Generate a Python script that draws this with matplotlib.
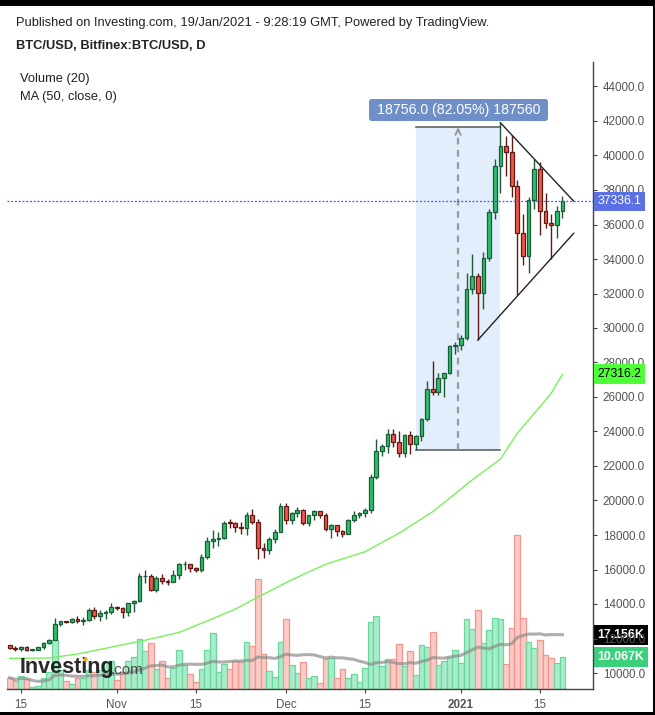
import matplotlib
matplotlib.use('Agg')
import matplotlib.pyplot as plt
import numpy as np
import pandas as pd
from matplotlib.patches import Rectangle, FancyBboxPatch
from matplotlib.lines import Line2D
import matplotlib.transforms as mtransforms

plt.rcParams['font.family'] = ['Liberation Sans', 'DejaVu Sans']

# ---------------- data ----------------
dates = pd.date_range('2020-10-13', '2021-01-19', freq='D')

opens = [11600, 11430, 11420, 11500, 11330, 11360, 11500, 11760, 11930, 12820,
         12990, 12940, 13130, 13040, 13070, 13650, 13290, 13460, 13560, 13800,
         13760, 13560, 14040, 14160, 15600, 15630, 14820, 15500, 15330, 15300,
         15700, 16290, 16330, 16070, 15960, 16720, 17660, 17790, 17820, 18690,
         18680, 18450, 18390, 19160, 18730, 17230, 17140, 17740, 18190, 19700,
         18850, 19250, 19460, 18690, 19150, 19390, 19180, 18330, 18560, 18260,
         18080, 18870, 19180, 19280, 19450, 21340, 22850, 23150, 23840, 23420,
         22740, 23820, 23250, 23740, 24700, 26450, 26270, 27090, 27380, 28960,
         28990, 29400, 32240, 33010, 32040, 34040, 36740, 39420, 40550, 40180,
         38250, 35490, 34170, 37420, 39200, 36780, 36070, 35950, 36780]
highs = [11650, 11550, 11560, 11540, 11400, 11520, 11800, 12000, 13180, 13020,
         13030, 13160, 13330, 13250, 13780, 13850, 13630, 13670, 14050, 13890,
         13820, 14070, 14250, 15780, 15960, 15760, 15650, 15740, 15460, 15970,
         16350, 16480, 16330, 16140, 16900, 17880, 18300, 18150, 18800, 18950,
         18740, 18770, 19350, 19480, 18930, 17520, 17860, 18330, 19850, 19850,
         19340, 19600, 19530, 19180, 19430, 19420, 19300, 18650, 18580, 18280,
         18950, 19420, 19350, 19570, 21540, 23550, 23290, 24150, 24150, 24000,
         23850, 24000, 23800, 24800, 26900, 28100, 27400, 27400, 28990, 29200,
         29600, 33200, 34300, 33200, 34400, 36900, 39800, 41900, 41130, 41200,
         38600, 36600, 37600, 39780, 39600, 37800, 36600, 37100, 37650]
lows = [11410, 11300, 11300, 11250, 11300, 11340, 11420, 11700, 11900, 12720,
        12890, 12900, 12920, 12800, 13030, 13130, 13000, 13130, 13430, 13640,
        13200, 13290, 13530, 14100, 15200, 14750, 14720, 15160, 15100, 15290,
        15470, 15960, 15870, 15880, 15880, 16580, 17220, 17350, 17760, 18430,
        18150, 18030, 18020, 18620, 16600, 16650, 16900, 17540, 18180, 18650,
        18620, 19050, 18600, 18550, 18870, 19000, 18250, 17850, 17950, 17900,
        18030, 18740, 19010, 19060, 19300, 21240, 22600, 22780, 23090, 22550,
        22540, 22700, 22900, 23450, 24620, 26100, 26100, 25980, 27340, 28490,
        28750, 29300, 32000, 29300, 31080, 33900, 36300, 37800, 38800, 37600,
        31900, 33650, 33200, 36900, 35390, 35800, 34000, 35200, 36400]
closes = [11430, 11420, 11500, 11330, 11360, 11500, 11760, 11930, 12820, 12990,
          12940, 13130, 13040, 13070, 13650, 13290, 13460, 13560, 13800, 13760,
          13560, 14040, 14160, 15600, 15630, 14820, 15500, 15330, 15300, 15700,
          16290, 16330, 16070, 15960, 16720, 17660, 17790, 17820, 18690, 18680,
          18450, 18390, 19160, 18730, 17230, 17140, 17740, 18190, 19700, 18850,
          19250, 19460, 18690, 19150, 19390, 19180, 18330, 18560, 18260, 18080,
          18870, 19180, 19280, 19450, 21340, 22850, 23150, 23840, 23420, 22740,
          23820, 23250, 23740, 24700, 26450, 26270, 27090, 27380, 28960, 28990,
          29400, 32240, 33010, 32040, 34040, 36740, 39420, 40550, 40180, 38250,
          35490, 34170, 37420, 39200, 36780, 36070, 35950, 36780, 37336.1]
volume_k = [3.57, 2.43, 4.01, 3.07, 0.54, 0.85, 3.38, 5.47, 15.48, 6.00,
            2.53, 1.58, 3.57, 3.57, 6.00, 5.37, 6.00, 8.63, 8.85, 2.84,
            5.37, 8.85, 10.11, 15.71, 12.01, 14.44, 6.23, 8.75, 3.38, 6.64,
            12.23, 7.49, 4.74, 2.21, 6.23, 12.23, 17.60, 5.28, 7.90, 6.32,
            8.85, 8.44, 14.76, 13.59, 34.67, 10.97, 5.69, 3.70, 14.76, 22.03,
            7.58, 5.06, 8.44, 3.38, 4.11, 1.90, 9.48, 9.95, 3.38, 6.23,
            3.38, 4.65, 2.12, 6.54, 21.08, 22.97, 7.27, 9.39, 9.39, 14.13,
            7.17, 11.91, 4.33, 13.81, 13.18, 17.92, 7.49, 8.75, 10.11, 12.23,
            8.12, 22.03, 18.87, 24.87, 14.44, 18.55, 22.34, 22.03, 7.81, 19.28,
            48.67, 22.34, 14.76, 12.86, 15.39, 10.65, 9.70, 8.12, 10.067]

ma50_dates = ['2020-10-13', '2020-10-20', '2020-10-25', '2020-10-31', '2020-11-06',
              '2020-11-12', '2020-11-18', '2020-11-22', '2020-11-26', '2020-12-02',
              '2020-12-08', '2020-12-15', '2020-12-21', '2020-12-27', '2021-01-03',
              '2021-01-08', '2021-01-11', '2021-01-14', '2021-01-17', '2021-01-19']
ma50_vals = [10850, 10870, 11100, 11500, 11900, 12350, 13150, 13700, 14400, 15400,
             16300, 17030, 18100, 19350, 21190, 22400, 23900, 25050, 26210, 27316.2]

x_tick_dates = ['2020-10-15', '2020-11-01', '2020-11-15', '2020-12-01',
                '2020-12-15', '2021-01-01', '2021-01-15']
x_tick_labels = ['15', 'Nov', '15', 'Dec', '15', '2021', '15']
y_ticks = list(range(10000, 44001, 2000))

measure_start, measure_end = '2020-12-24', '2021-01-08'
measure_low, measure_high = 22900, 41656
measure_text = '18756.0 (82.05%) 187560'
tri_upper = [('2021-01-08', 41900), ('2021-01-21', 37350)]
tri_lower = [('2021-01-04', 29300), ('2021-01-21', 35490)]
last_price = 37336.1

# ---------------- helpers ----------------
def idx(s):
    return (pd.Timestamp(s) - dates[0]).days

W, H = 655, 715
fig = plt.figure(figsize=(W / 100, H / 100), dpi=100)
fig.patch.set_facecolor('white')

ax_l, ax_r, ax_t, ax_b = 7, 593, 62, 689
rect = [ax_l / W, (H - ax_b) / H, (ax_r - ax_l) / W, (ax_b - ax_t) / H]
axv = fig.add_axes(rect)
ax = fig.add_axes(rect)
axv.set_zorder(1)
ax.set_zorder(2)
ax.patch.set_visible(False)

px_per_day = 5.64
x0_px = 9.7
xmin = (ax_l - x0_px) / px_per_day
xmax = (ax_r - x0_px) / px_per_day
price_per_px = 2000 / 34.5
ymin = 10000 + (673 - ax_b) * price_per_px
ymax = 10000 + (673 - ax_t) * price_per_px

# ---------------- volume ----------------
n = len(dates)
xs = np.arange(n)
vol = np.array(volume_k)
up = np.array(closes) >= np.array(opens)
vface = np.where(up, '#a9ecca', '#fbcac6')
vedge = np.where(up, '#6ad79c', '#f1958d')
axv.bar(xs, vol, width=1.0, color=vface, edgecolor=vedge, linewidth=0.9)
vol_ma = pd.Series(vol).rolling(20, min_periods=1).mean()
axv.plot(xs, vol_ma, color='#8c8c8c', lw=2.2, alpha=0.7)
axv.set_xlim(xmin, xmax)
axv.set_ylim(0, (ax_b - ax_t) * 0.316)
axv.axis('off')

# ---------------- measurement box ----------------
ms, me = idx(measure_start), idx(measure_end)
ax.add_patch(Rectangle((ms, measure_low), me - ms, measure_high - measure_low,
                       facecolor='#e3eefc', edgecolor='none', zorder=0.5))
ax.plot([ms, me], [measure_high, measure_high], color='#555555', lw=1.1, zorder=0.6)
ax.plot([ms, me], [measure_low, measure_low], color='#555555', lw=1.1, zorder=0.6)
mid = (ms + me) / 2
ax.plot([mid, mid], [measure_low, measure_high - 150], color='#9a9a9a', lw=1.6,
        ls=(0, (3, 2.5)), zorder=0.7)
ax.plot([mid - 0.45, mid, mid + 0.45], [measure_high - 450, measure_high - 120, measure_high - 450],
        color='#9a9a9a', lw=1.4, zorder=0.7)
# label box above the measured range (pixel placement)
box_l, box_r, box_t, box_b = 369, 548, 99, 121
fig.patches.append(FancyBboxPatch((box_l / W, 1 - box_b / H), (box_r - box_l) / W,
                                  (box_b - box_t) / H, boxstyle='round,pad=0,rounding_size=0.004',
                                  transform=fig.transFigure, facecolor='#6f8fc8',
                                  edgecolor='none', zorder=15))
fig.text((box_l + box_r) / 2 / W, 1 - (box_t + box_b) / 2 / H, measure_text, ha='center',
         va='center', fontsize=10.2, color='white', zorder=16)

# ---------------- MA50 ----------------
ax.plot([idx(d) for d in ma50_dates], ma50_vals, color='#77f25a', lw=1.0, zorder=1)

# ---------------- candles ----------------
bw = 0.66
for i in range(n):
    o, h, l, c = opens[i], highs[i], lows[i], closes[i]
    if c >= o:
        fc, ec = '#2dbf6c', '#1d5a37'
    else:
        fc, ec = '#f0574c', '#5e1b16'
    ax.plot([i, i], [l, h], color=ec, lw=1.0, zorder=2, solid_capstyle='butt')
    bottom = min(o, c)
    height = max(abs(c - o), 45)
    ax.add_patch(Rectangle((i - bw / 2, bottom), bw, height, facecolor=fc,
                           edgecolor=ec, lw=0.9, zorder=3))

# ---------------- triangle ----------------
ax.plot([idx(d) for d, _ in tri_upper], [p for _, p in tri_upper], color='#222222', lw=1.0, zorder=4)
ax.plot([idx(d) for d, _ in tri_lower], [p for _, p in tri_lower], color='#222222', lw=1.0, zorder=4)

# last price line
ax.axhline(last_price, color='#2d5bff', lw=0.9, ls=(0, (1.5, 1.5)), zorder=4)

# ---------------- axes styling ----------------
ax.set_xlim(xmin, xmax)
ax.set_ylim(ymin, ymax)
for s in ['left', 'top']:
    ax.spines[s].set_visible(False)
ax.spines['right'].set_color('#444444')
ax.spines['bottom'].set_color('#444444')
ax.spines['right'].set_linewidth(1.0)
ax.spines['bottom'].set_linewidth(1.0)
ax.yaxis.tick_right()
ax.set_yticks(y_ticks)
ax.set_yticklabels([f'{v:.1f}' for v in y_ticks])
ax.set_xticks([idx(d) for d in x_tick_dates])
ax.set_xticklabels(x_tick_labels)
ax.tick_params(axis='y', length=3, width=0.8, color='#444444', pad=4,
               labelsize=8.4, labelcolor='#555555')
ax.tick_params(axis='x', length=3, width=0.8, color='#444444', pad=4,
               labelsize=8.4, labelcolor='#555555')
for lab in ax.get_xticklabels():
    if lab.get_text() == '2021':
        lab.set_fontweight('bold')

# right-side value labels (drawn over the tick labels, as in the source)
trans = mtransforms.blended_transform_factory(ax.transAxes, ax.transData)
ax.text(1.008, last_price, f'{last_price:.1f}', transform=trans, ha='left', va='center',
        fontsize=8.8, color='white', clip_on=False, zorder=6,
        bbox=dict(boxstyle='square,pad=0.32', fc='#5b70e4', ec='none'))
ax.text(1.008, ma50_vals[-1], f'{ma50_vals[-1]:.1f}', transform=trans, ha='left', va='center',
        fontsize=8.8, color='black', clip_on=False, zorder=6,
        bbox=dict(boxstyle='square,pad=0.32', fc='#4dff36', ec='none'))
transv = mtransforms.blended_transform_factory(axv.transAxes, axv.transData)
axv.text(1.008, vol_ma.iloc[-1], f'{vol_ma.iloc[-1]:.3f}K', transform=transv, ha='left',
         va='center', fontsize=8.8, color='white', fontweight='bold', clip_on=False, zorder=6,
         bbox=dict(boxstyle='square,pad=0.32', fc='#000000', ec='none'))
axv.text(1.008, vol[-1], f'{vol[-1]:.3f}K', transform=transv, ha='left', va='center',
         fontsize=8.8, color='white', fontweight='bold', clip_on=False, zorder=6,
         bbox=dict(boxstyle='square,pad=0.32', fc='#3ccf7c', ec='none'))

# ---------------- header texts ----------------
fig.text(16 / W, 1 - 23 / H, 'Published on Investing.com, 19/Jan/2021 - 9:28:19 GMT, Powered by TradingView.',
         fontsize=9.3, color='#222222', va='center', ha='left')
fig.text(16 / W, 1 - 46 / H, 'BTC/USD, Bitfinex:BTC/USD, D', fontsize=9.3, fontweight='bold',
         color='#222222', va='center', ha='left')
fig.text(20 / W, 1 - 79 / H, 'Volume (20)', fontsize=9.3, color='#222222', va='center', ha='left')
fig.text(20 / W, 1 - 97 / H, 'MA (50, close, 0)', fontsize=9.3, color='#222222', va='center', ha='left')

# logo
fig.text(20 / W, 1 - 667 / H, 'Investing', fontsize=15.5, fontweight='bold', color='#111111',
         va='center', ha='left', alpha=0.9, zorder=10)
fig.text(111 / W, 1 - 670 / H, '.com', fontsize=11, color='#333333', va='center', ha='left',
         alpha=0.85, zorder=10)
fig.add_artist(Line2D([85 / W], [1 - 659 / H], transform=fig.transFigure, marker='o',
                      markersize=3.2, color='#f5a623', markeredgewidth=0, zorder=11))

# frame
fig.patches.append(Rectangle((0, 1 - 6 / H), 1, 6 / H, transform=fig.transFigure,
                             facecolor='black', edgecolor='none', zorder=20))
fig.patches.append(Rectangle((0, 0), 1, 3 / H, transform=fig.transFigure,
                             facecolor='black', edgecolor='none', zorder=20))
fig.patches.append(Rectangle((1 - 2 / W, 0), 2 / W, 1, transform=fig.transFigure,
                             facecolor='black', edgecolor='none', zorder=20))

fig.savefig('out.png', dpi=100, facecolor='white')
